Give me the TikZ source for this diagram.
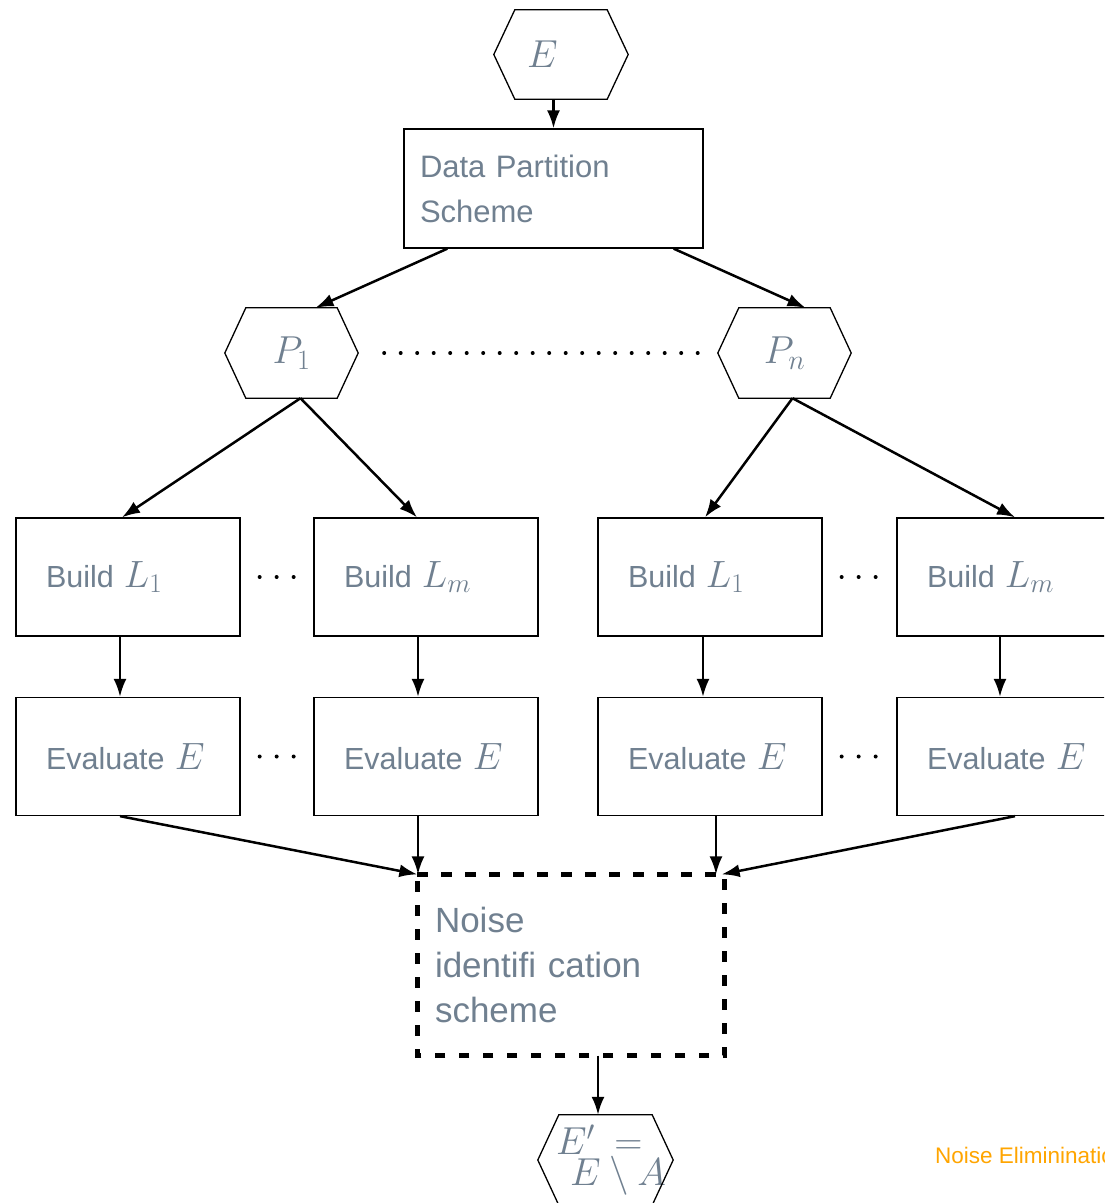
\RequirePackage{fix-cm}
\documentclass[tikz,border=0pt]{standalone}
\usepackage[no-math]{fontspec}
\setmainfont{Liberation Sans}
\usetikzlibrary{arrows.meta,calc}
\DeclareMathSizes{38}{38}{27}{19}
\DeclareMathSizes{39}{39}{28}{20}
\definecolor{txt}{RGB}{112,128,144}
\definecolor{orng}{RGB}{255,165,0}
\newcommand\hexagonpath[1]{\draw[hexline] (#1.west) -- ([xshift=21pt]#1.north west) -- ([xshift=-21pt]#1.north east) -- (#1.east) -- ([xshift=-21pt]#1.south east) -- ([xshift=21pt]#1.south west) -- cycle;}
\newcommand\mth[1]{{\fontsize{38}{45}\selectfont$#1$}}
\begin{document}
\begin{tikzpicture}[x=1pt,y=-1pt,
  hexline/.style={draw=black,line width=1.3pt},
  hexnode/.style={minimum width=134pt,minimum height=89pt,inner sep=0pt,text=txt,font=\fontsize{39}{31}\selectfont},
  stepbox/.style={draw=black,line width=1.3pt,minimum width=224pt,minimum height=118pt,inner xsep=30pt,text width=164pt,align=left,text=txt,font=\fontsize{30.5}{45}\selectfont},
  arr/.style={line width=2.5pt,-{Latex[length=18pt,width=13pt]}},
  dotsline/.style={line width=4pt,line cap=round,dash pattern=on 0pt off 17pt},
  longdots/.style={line width=4pt,line cap=round,dash pattern=on 0pt off 16.5pt}]
\useasboundingbox (0,0) rectangle (1104,1203);
\clip (0,0) rectangle (1104,1203);
\fill[white] (0,0) rectangle (1104,1203);

% hexagons
\node[hexnode,text width=68pt,inner xsep=33pt,align=left] (E) at (561,54.5) {$E$};
\hexagonpath{E}
\node[hexnode,minimum width=133pt,minimum height=90pt] (P1) at (291.5,353) {$P_1$};
\hexagonpath{P1}
\node[hexnode,minimum width=133pt,minimum height=90pt] (Pn) at (784.5,353) {$P_n$};
\hexagonpath{Pn}
\node[hexnode,minimum width=135pt,minimum height=90pt,text width=99pt,inner xsep=18pt,align=left] (out) at (605.5,1160) {\mbox{$E'\mskip4mu=$}\\\hspace*{14pt}\mbox{$\medmuskip=4mu E\setminus A$}};
\hexagonpath{out}

% boxes
\node[stepbox,minimum width=299pt,minimum height=119pt,inner xsep=16pt,text width=267pt,font=\fontsize{31}{45}\selectfont] (dp) at (553.5,188.5) {Data Partition\\Scheme};
\node[stepbox] (b1) at (128,577) {Build~\mth{L_1}};
\node[stepbox] (b2) at (426,577) {Build~\mth{L_m}};
\node[stepbox] (b3) at (710,577) {Build~\mth{L_1}};
\node[stepbox] (b4) at (1009,577) {Build~\mth{L_m}};
\node[stepbox] (e1) at (128,756.5) {Evaluate~\mth{E}};
\node[stepbox] (e2) at (426,756.5) {Evaluate~\mth{E}};
\node[stepbox] (e3) at (710,756.5) {Evaluate~\mth{E}};
\node[stepbox] (e4) at (1009,756.5) {Evaluate~\mth{E}};
\node[stepbox,draw=none,minimum width=306pt,minimum height=180pt,inner xsep=17pt,text width=272pt,font=\fontsize{35}{45}\selectfont] (noise) at (571,965) {Noise\\identifi cation\\scheme};
\draw[line width=5pt,dash pattern=on 10.5pt off 13.5pt] (noise.north west) -- (noise.north east) -- (noise.south east) -- (noise.south west) -- cycle;

\node[anchor=base west,text=orng,font=\fontsize{22.5}{26}\selectfont,inner sep=0pt] (lbl) at (935,1163) {Noise Eliminination};

% dots
\draw[longdots] ([xshift=26pt]P1.east) -- ([xshift=-20pt]Pn.west);
\draw[dotsline] ([xshift=19pt]b1.east) -- ([xshift=-19pt]b2.west);
\draw[dotsline] ([xshift=19pt]b3.east) -- ([xshift=-19pt]b4.west);
\draw[dotsline] ([xshift=19pt]e1.east) -- ([xshift=-19pt]e2.west);
\draw[dotsline] ([xshift=19pt]e3.east) -- ([xshift=-19pt]e4.west);

% arrows
\draw[arr] (E.south -| dp.north) -- (dp.north);
\draw[arr] ([xshift=44pt]dp.south west) -- ([xshift=24pt]P1.north);
\draw[arr] ([xshift=-30pt]dp.south east) -- ([xshift=21pt]Pn.north);
\draw[arr] ([xshift=9pt]P1.south) -- ([xshift=-6pt]b1.north);
\draw[arr] ([xshift=9pt]P1.south) -- ([xshift=-9pt]b2.north);
\draw[arr] ([xshift=8pt]Pn.south) -- ([xshift=-5pt]b3.north);
\draw[arr] ([xshift=8pt]Pn.south) -- ([xshift=6pt]b4.north);
\draw[arr] ([xshift=-8pt]b1.south) -- ([xshift=-8pt]e1.north);
\draw[arr] ([xshift=-8pt]b2.south) -- ([xshift=-8pt]e2.north);
\draw[arr] ([xshift=-7pt]b3.south) -- ([xshift=-7pt]e3.north);
\draw[arr] ([xshift=-9pt]b4.south) -- ([xshift=-9pt]e4.north);
\draw[arr] ([xshift=-8pt]e1.south) -- (noise.north west);
\draw[arr] ([xshift=-8pt]e2.south) -- ([xshift=-8pt]e2.south |- noise.north);
\draw[arr] ([xshift=6pt]e3.south) -- ([xshift=6pt]e3.south |- noise.north);
\draw[arr] ([xshift=6pt]e4.south) -- ([xshift=-3pt]noise.north east);
\draw[arr] ([xshift=27pt]noise.south) -- ([xshift=27pt]noise.south |- out.north);
\end{tikzpicture}
\end{document}
